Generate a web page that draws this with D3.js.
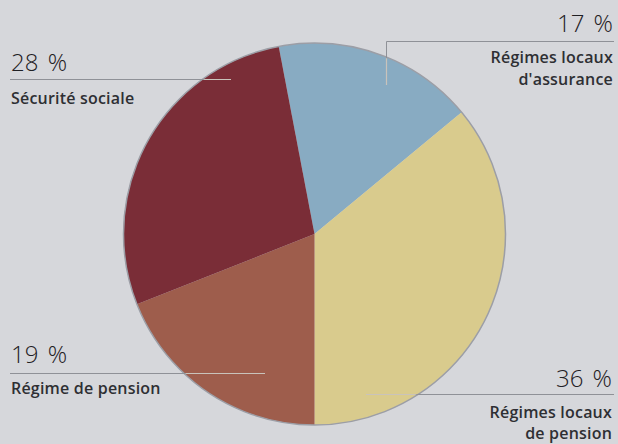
<!DOCTYPE html>
<html><head><meta charset="utf-8">
<script src="https://cdn.jsdelivr.net/npm/d3@7"></script>
<style>
html,body{margin:0;padding:0;background:#d6d7db;}
svg{display:block;}
</style></head>
<body>
<svg id="c" width="618" height="444"></svg>
<script>
// Data (clockwise order starting at the top-left edge of the blue slice)
const categories = ["Régimes locaux d'assurance", "Régimes locaux de pension", "Régime de pension", "Sécurité sociale"];
const values = [17, 36, 19, 28];
const percentLabels = ["17 %", "36 %", "19 %", "28 %"];
const labelLines = [["Régimes locaux", "d'assurance"], ["Régimes locaux", "de pension"], ["Régime de pension"], ["Sécurité sociale"]];
const colors = ["#88abc2", "#d9cb8d", "#9e5d4c", "#7a2d37"];

const svg = d3.select("#c");
const cx = 314.5, cy = 234, r = 191;
const total = d3.sum(values);
// yellow slice ends pointing straight down
const start = Math.PI - (values[0] + values[1]) / total * 2 * Math.PI;

const pie = d3.pie().sort(null).value(d => d).startAngle(start).endAngle(start + 2 * Math.PI);
const arc = d3.arc().innerRadius(0).outerRadius(r);
const arcs = pie(values);

const g = svg.append("g").attr("transform", `translate(${cx},${cy})`);
g.selectAll("path.slice").data(arcs).enter().append("path")
  .attr("class", "slice")
  .attr("d", arc)
  .attr("fill", (d, i) => colors[i]);
g.append("circle").attr("r", r).attr("fill", "none").attr("stroke", "#9c9ea6").attr("stroke-width", 1.5);

svg.append("defs").append("clipPath").attr("id", "inpie")
  .append("circle").attr("cx", cx).attr("cy", cy).attr("r", r - 1);

const layout = [
  {anchor: "end", x: 613, pctY: 32, ruleY: 41.5, x0: 386.5, x1: 614, labY: [63, 85], vert: [41.5, 85]},
  {anchor: "end", x: 612, pctY: 387, ruleY: 394.5, x0: 366, x1: 614, labY: [418, 439]},
  {anchor: "start", x: 11, pctY: 363, ruleY: 373.5, x0: 10, x1: 265, labY: [394]},
  {anchor: "start", x: 11, pctY: 71, ruleY: 79.5, x0: 10, x1: 231, labY: [104]}
];

const lines = svg.append("g");
layout.forEach((L, i) => {
  const seg = [[L.x0, L.ruleY, L.x1, L.ruleY]];
  if (L.vert) seg.push([L.x0, L.vert[0], L.x0, L.vert[1]]);
  seg.forEach(s => {
    lines.append("line").attr("x1", s[0]).attr("y1", s[1]).attr("x2", s[2]).attr("y2", s[3])
      .attr("stroke", "#8f9197").attr("stroke-width", 1);
    lines.append("line").attr("x1", s[0]).attr("y1", s[1]).attr("x2", s[2]).attr("y2", s[3])
      .attr("stroke", "#c9c3bb").attr("stroke-width", 1.2).attr("clip-path", "url(#inpie)");
  });
  svg.append("text").attr("x", L.x).attr("y", L.pctY).attr("text-anchor", L.anchor)
    .attr("font-family", "Open Sans").attr("font-weight", 300).attr("font-size", 24)
    .attr("word-spacing", 3)
    .attr("fill", "#1f2024").text(percentLabels[i]);
  labelLines[i].forEach((t, j) => {
    svg.append("text").attr("x", L.x).attr("y", L.labY[j]).attr("text-anchor", L.anchor)
      .attr("font-family", "Open Sans").attr("font-weight", 600).attr("font-size", 16)
      .attr("letter-spacing", 0.2)
      .attr("fill", "#2e2f33").text(t);
  });
});
</script>
</body></html>
